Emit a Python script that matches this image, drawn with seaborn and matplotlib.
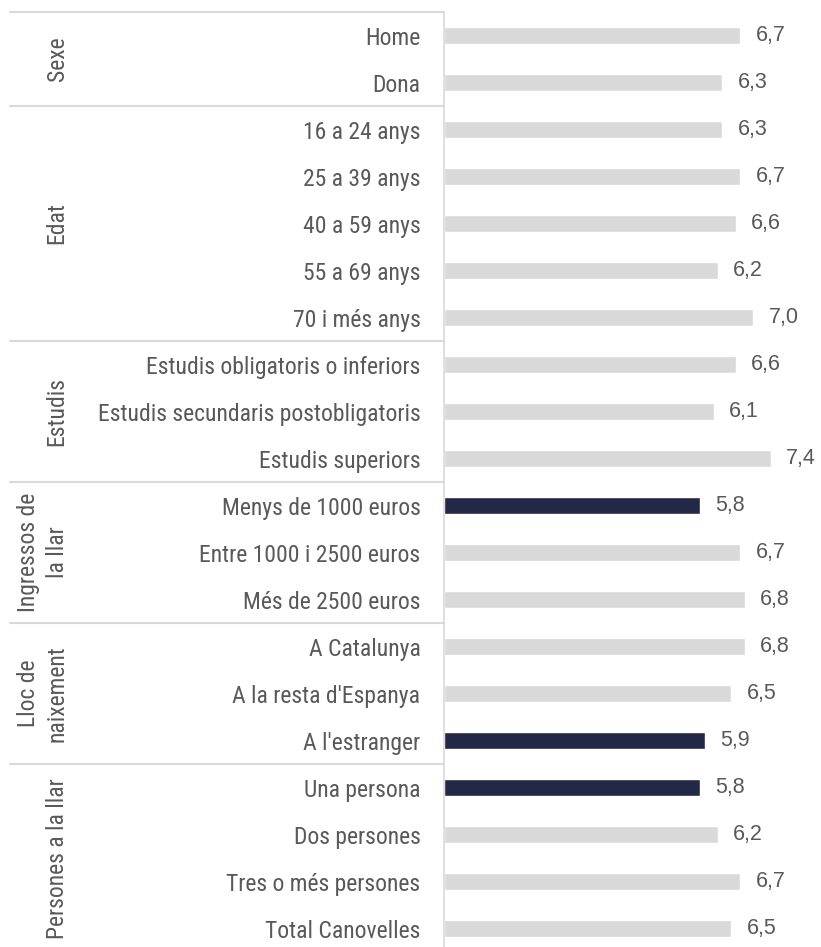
import matplotlib
matplotlib.use("Agg")
import matplotlib.pyplot as plt
import matplotlib.transforms as mtransforms
from matplotlib import font_manager
import seaborn as sns

categories = [
    "Home", "Dona",
    "16 a 24 anys", "25 a 39 anys", "40 a 59 anys", "55 a 69 anys", "70 i més anys",
    "Estudis obligatoris o inferiors", "Estudis secundaris postobligatoris", "Estudis superiors",
    "Menys de 1000 euros", "Entre 1000 i 2500 euros", "Més de 2500 euros",
    "A Catalunya", "A la resta d'Espanya", "A l'estranger",
    "Una persona", "Dos persones", "Tres o més persones", "Total Canovelles",
]
values = [6.7, 6.3, 6.3, 6.7, 6.6, 6.2, 7.0, 6.6, 6.1, 7.4,
          5.8, 6.7, 6.8, 6.8, 6.5, 5.9, 5.8, 6.2, 6.7, 6.5]
highlight = ["Menys de 1000 euros", "A l'estranger", "Una persona"]

groups = ["Sexe", "Edat", "Estudis", "Ingressos de\nla llar", "Lloc de\nnaixement", "Persones a la llar"]
group_sizes = [2, 5, 3, 3, 3, 4]

grey = "#d9d9d9"
navy = "#232846"
text_col = "#595959"

sns.set_theme(style="white")
names = {f.name for f in font_manager.fontManager.ttflist}
fams = [f for f in ["Roboto Condensed", "Liberation Sans Narrow", "Arial Narrow"] if f in names]
plt.rcParams["font.family"] = fams + ["Roboto", "DejaVu Sans"]
fs = 17 if fams else 14

W, H = 821, 947
fig = plt.figure(figsize=(W / 100, H / 100), dpi=100)
ax = fig.add_axes([444 / W, 0, 1 - 444 / W, 1 - 12 / H])

colors = [navy if c in highlight else grey for c in categories]
sns.barplot(x=values, y=categories, hue=categories, palette=colors,
            legend=False, width=0.37, orient="h", ax=ax, saturation=1)

# value labels look like a regular (not condensed) sans
for cont in ax.containers:
    labs = [f"{v:.1f}".replace(".", ",") for v in cont.datavalues]
    ax.bar_label(cont, labels=labs, padding=11, fontsize=15.5, color=text_col,
                 family=["Liberation Sans", "DejaVu Sans"])

ax.set_xlim(0, 377 / 44.2)
ax.set_ylim(19.39, -0.5)
ax.set_xlabel("")
ax.set_ylabel("")
ax.set_xticks([])
ax.tick_params(axis="y", length=0, pad=17, labelsize=fs, labelcolor=text_col)
for s in ["top", "right", "bottom"]:
    ax.spines[s].set_visible(False)
ax.spines["left"].set_color(grey)
ax.spines["left"].set_linewidth(1.2)

trans = mtransforms.blended_transform_factory(fig.transFigure, ax.transData)
start = 0
for g, n in zip(groups, group_sizes):
    ax.plot([10 / W, 444 / W], [start - 0.5, start - 0.5], transform=trans,
            color=grey, lw=1.5, clip_on=False)
    mid = start + (n - 1) / 2
    xpos = 43 / W if "\n" in g else 57 / W
    ax.text(xpos, mid, g, transform=trans, rotation=90, ha="center", va="center",
            fontsize=fs, color=text_col, multialignment="center", linespacing=1.32)
    start += n

fig.savefig("out.png", dpi=100)
